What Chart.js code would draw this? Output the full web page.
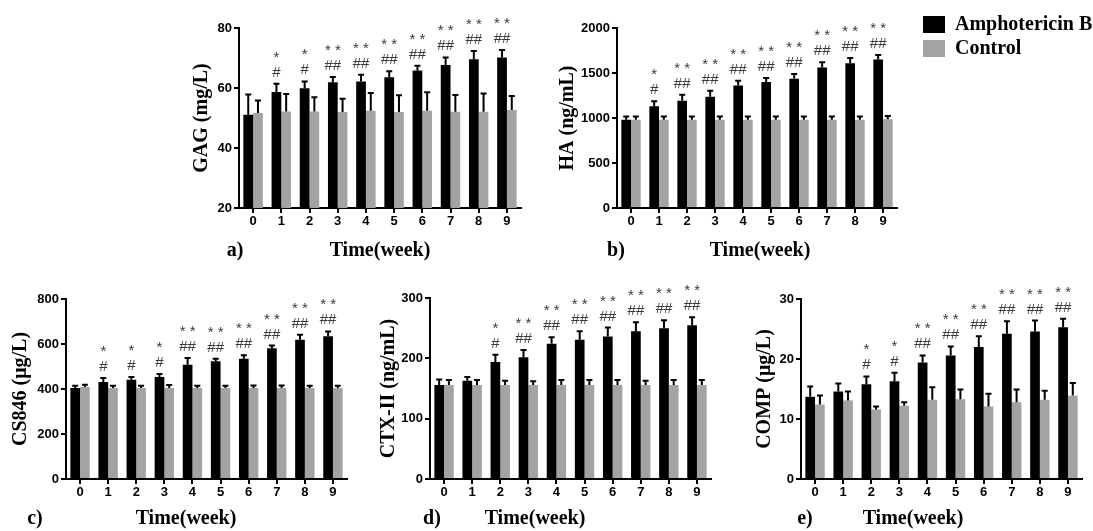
<!DOCTYPE html>
<html><head><meta charset="utf-8">
<script src="https://cdn.jsdelivr.net/npm/chart.js@4.4.1/dist/chart.umd.min.js"></script>
<style>
html,body{margin:0;padding:0;background:#fff;width:1093px;height:531px;overflow:hidden}
canvas{position:absolute;left:0;top:0}
</style></head><body>
<canvas id="cA" width="1093" height="531"></canvas>
<canvas id="cB" width="1093" height="531"></canvas>
<canvas id="cC" width="1093" height="531"></canvas>
<canvas id="cD" width="1093" height="531"></canvas>
<canvas id="cE" width="1093" height="531"></canvas>
<script>
// ---- data ----
const weeks = ['0','1','2','3','4','5','6','7','8','9'];
const seriesNames = ['Amphotericin B', 'Control'];

// a) GAG (mg/L)
const gagAmpho = [51.1, 58.7, 59.9, 61.9, 62.2, 63.6, 65.8, 67.7, 69.6, 70.2];
const gagAmphoErr = [6.7, 2.7, 2.3, 1.8, 2.2, 2.0, 1.6, 2.5, 2.7, 2.5];
const gagCtrl = [51.7, 52.2, 52.2, 52.0, 52.4, 52.0, 52.4, 52.1, 52.1, 52.7];
const gagCtrlErr = [4.1, 5.8, 4.7, 4.4, 5.9, 5.6, 6.2, 5.6, 6.1, 4.6];
const gagTicks = [20, 40, 60, 80];
const gagStars = ['', '*', '*', '**', '**', '**', '**', '**', '**', '**'];
const gagHashes = ['', '#', '#', '##', '##', '##', '##', '##', '##', '##'];

// b) HA (ng/mL)
const haAmpho = [981, 1130, 1193, 1237, 1360, 1400, 1437, 1561, 1607, 1650];
const haAmphoErr = [37, 55, 66, 67, 53, 44, 52, 59, 60, 50];
const haCtrl = [981, 981, 981, 981, 981, 981, 981, 981, 981, 985];
const haCtrlErr = [37, 37, 37, 37, 37, 37, 37, 37, 37, 37];
const haTicks = [0, 500, 1000, 1500, 2000];
const haStars = ['', '*', '**', '**', '**', '**', '**', '**', '**', '**'];
const haHashes = ['', '#', '##', '##', '##', '##', '##', '##', '##', '##'];

// c) CS846 (µg/L)
const csAmpho = [404, 431, 441, 453, 508, 523, 535, 581, 619, 634];
const csAmphoErr = [11, 18, 12, 14, 30, 12, 15, 12, 22, 22];
const csCtrl = [409, 404, 404, 404, 405, 404, 405, 404, 404, 404];
const csCtrlErr = [10, 11, 11, 14, 10, 11, 11, 12, 11, 10];
const csTicks = [0, 200, 400, 600, 800];
const csStars = ['', '*', '*', '*', '**', '**', '**', '**', '**', '**'];
const csHashes = ['', '#', '#', '#', '##', '##', '##', '##', '##', '##'];

// d) CTX-II (ng/mL)
const ctxAmpho = [156, 163, 194, 202, 224, 231, 236, 245, 250, 255];
const ctxAmphoErr = [9, 6, 12, 12, 11, 14, 15, 15, 13, 13];
const ctxCtrl = [156, 156, 156, 156, 156, 156, 156, 156, 156, 156];
const ctxCtrlErr = [8, 8, 7, 6, 8, 8, 8, 7, 8, 8];
const ctxTicks = [0, 100, 200, 300];
const ctxStars = ['', '', '*', '**', '**', '**', '**', '**', '**', '**'];
const ctxHashes = ['', '', '#', '##', '##', '##', '##', '##', '##', '##'];

// e) COMP (µg/L)
const compAmpho = [13.7, 14.6, 15.8, 16.3, 19.4, 20.6, 22.0, 24.2, 24.6, 25.3];
const compAmphoErr = [1.7, 1.3, 1.3, 1.4, 1.2, 1.5, 1.8, 2.1, 1.8, 1.4];
const compCtrl = [12.4, 13.1, 11.6, 12.2, 13.2, 13.3, 12.1, 12.8, 13.2, 13.9];
const compCtrlErr = [1.5, 1.5, 0.5, 0.6, 2.1, 1.6, 2.1, 2.1, 1.5, 2.1];
const compTicks = [0, 10, 20, 30];
const compStars = ['', '', '*', '*', '**', '**', '**', '**', '**', '**'];
const compHashes = ['', '', '#', '#', '##', '##', '##', '##', '##', '##'];

// ---- styling ----
const BLACK = '#000000';
const GREY = '#a3a3a3';
const SERIF = '"Liberation Serif", "Times New Roman", serif';
const SANS = '"Liberation Sans", Arial, sans-serif';
const W = 1093, H = 531, YW = 40, XH = 30;

const errorAndMarks = {
  id: 'errorAndMarks',
  afterDatasetsDraw(chart) {
    const ctx = chart.ctx, y = chart.scales.y;
    ctx.save();
    ctx.strokeStyle = '#000'; ctx.lineWidth = 2;
    chart.data.datasets.forEach((ds, i) => {
      const meta = chart.getDatasetMeta(i);
      meta.data.forEach((bar, j) => {
        const top = y.getPixelForValue(ds.data[j] + ds.errs[j]);
        ctx.beginPath();
        ctx.moveTo(bar.x, bar.y); ctx.lineTo(bar.x, top);
        ctx.moveTo(bar.x - 3, top); ctx.lineTo(bar.x + 3, top);
        ctx.stroke();
        if (ds.stars) {
          ctx.fillStyle = '#3a3a3a';
          ctx.textAlign = 'center'; ctx.textBaseline = 'alphabetic';
          ctx.font = '15px ' + SANS;
          if (ds.hashes[j]) ctx.fillText(ds.hashes[j], bar.x, top - 7);
          if (ds.stars[j]) ctx.fillText(ds.stars[j].split('').join(' '), bar.x, top - 22);
        }
      });
    });
    ctx.restore();
  }
};

const panelText = {
  id: 'panelText',
  afterDraw(chart, args, o) {
    const ctx = chart.ctx, ca = chart.chartArea;
    ctx.save();
    ctx.fillStyle = '#000';
    ctx.font = 'bold 20px ' + SERIF;
    ctx.textAlign = 'center'; ctx.textBaseline = 'middle';
    ctx.fillText(o.xTitle, o.xTitleX, o.rowY);
    ctx.fillText(o.letter, o.letterX, o.rowY);
    ctx.save();
    ctx.translate(o.yTitleX, (ca.top + ca.bottom) / 2);
    ctx.rotate(-Math.PI / 2);
    ctx.fillText(o.yTitle, 0, 0);
    ctx.restore();
    if (o.legend) {
      ctx.textAlign = 'left';
      chart.data.datasets.forEach((ds, i) => {
        const yy = 16 + i * 24;
        ctx.fillStyle = ds.backgroundColor;
        ctx.fillRect(923, yy, 22, 17);
        ctx.fillStyle = '#000';
        ctx.fillText(ds.label, 955, yy + 9);
      });
    }
    ctx.restore();
  }
};

function makePanel(id, p) {
  const tickFont = { family: SANS, weight: 'bold', size: 13 };
  new Chart(document.getElementById(id), {
    type: 'bar',
    data: {
      labels: weeks,
      datasets: [
        { label: seriesNames[0], data: p.a, errs: p.aErr, stars: p.stars, hashes: p.hashes, backgroundColor: BLACK },
        { label: seriesNames[1], data: p.c, errs: p.cErr, backgroundColor: GREY }
      ]
    },
    options: {
      responsive: false, animation: false, devicePixelRatio: 1,
      layout: { padding: { left: p.L - YW, top: p.T, right: W - p.R, bottom: H - p.B - XH } },
      datasets: { bar: { categoryPercentage: 0.69, barPercentage: 1.0 } },
      plugins: {
        legend: { display: false }, tooltip: { enabled: false },
        panelText: { xTitle: 'Time(week)', xTitleX: p.xTitleX, rowY: p.rowY, letter: p.letter, letterX: p.letterX, yTitle: p.yTitle, yTitleX: p.yTitleX, legend: !!p.legend }
      },
      scales: {
        x: {
          grid: { offset: false, drawOnChartArea: false, tickLength: 5, color: '#000', lineWidth: 2 },
          border: { color: '#000', width: 2 },
          ticks: { color: '#000', font: tickFont, padding: 1, maxRotation: 0 },
          afterFit: s => { s.height = XH; }
        },
        y: {
          min: p.ticks[0], max: p.ticks[p.ticks.length - 1],
          afterBuildTicks: s => { s.ticks = p.ticks.map(v => ({ value: v })); },
          grid: { drawOnChartArea: false, tickLength: 5, color: '#000', lineWidth: 2 },
          border: { color: '#000', width: 2 },
          ticks: { color: '#000', font: tickFont, padding: 2, callback: v => String(v) },
          afterFit: s => { s.width = YW; }
        }
      }
    },
    plugins: [errorAndMarks, panelText]
  });
}

makePanel('cA', { a: gagAmpho, aErr: gagAmphoErr, c: gagCtrl, cErr: gagCtrlErr, ticks: gagTicks, stars: gagStars, hashes: gagHashes,
  L: 239, R: 521, T: 28, B: 208, yTitle: 'GAG (mg/L)', yTitleX: 202, letter: 'a)', letterX: 235, xTitleX: 380, rowY: 251 });
makePanel('cB', { a: haAmpho, aErr: haAmphoErr, c: haCtrl, cErr: haCtrlErr, ticks: haTicks, stars: haStars, hashes: haHashes,
  L: 617, R: 897, T: 28, B: 208, yTitle: 'HA (ng/mL)', yTitleX: 568, letter: 'b)', letterX: 616, xTitleX: 760, rowY: 251, legend: true });
makePanel('cC', { a: csAmpho, aErr: csAmphoErr, c: csCtrl, cErr: csCtrlErr, ticks: csTicks, stars: csStars, hashes: csHashes,
  L: 66, R: 347, T: 299, B: 479, yTitle: 'CS846 (μg/L)', yTitleX: 21, letter: 'c)', letterX: 35, xTitleX: 186, rowY: 519 });
makePanel('cD', { a: ctxAmpho, aErr: ctxAmphoErr, c: ctxCtrl, cErr: ctxCtrlErr, ticks: ctxTicks, stars: ctxStars, hashes: ctxHashes,
  L: 430, R: 711, T: 298, B: 479, yTitle: 'CTX-II (ng/mL)', yTitleX: 389, letter: 'd)', letterX: 432, xTitleX: 535, rowY: 519 });
makePanel('cE', { a: compAmpho, aErr: compAmphoErr, c: compCtrl, cErr: compCtrlErr, ticks: compTicks, stars: compStars, hashes: compHashes,
  L: 801, R: 1082, T: 299, B: 479, yTitle: 'COMP (μg/L)', yTitleX: 765, letter: 'e)', letterX: 805, xTitleX: 913, rowY: 519 });
</script>
</body></html>
